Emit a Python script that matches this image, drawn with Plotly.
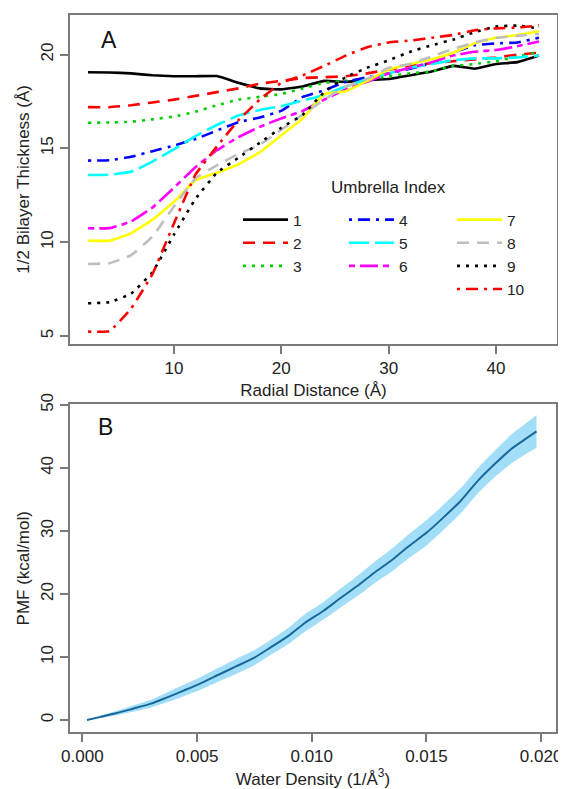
import plotly.graph_objects as go

# ---------------- Panel A data ----------------
radial = [2, 4, 6, 8, 10, 12, 14, 16, 18, 20, 22, 24, 26, 28, 30, 32, 34, 36, 38, 40, 42, 44]
u1 = [19.06, 19.05, 19.0, 18.9, 18.85, 18.85, 18.86, 18.5, 18.2, 18.15, 18.3, 18.6, 18.55, 18.65, 18.7, 18.9, 19.1, 19.4, 19.25, 19.5, 19.6, 19.95]
u2 = [17.2, 17.2, 17.3, 17.45, 17.6, 17.8, 18.0, 18.2, 18.45, 18.6, 18.75, 18.8, 18.85, 19.0, 19.2, 19.4, 19.55, 19.65, 19.75, 19.85, 20.0, 20.1]
u3 = [16.37, 16.38, 16.42, 16.55, 16.7, 16.95, 17.3, 17.6, 17.75, 17.9, 18.2, 18.5, 18.6, 18.7, 18.85, 19.0, 19.1, 19.4, 19.5, 19.65, 19.9, 20.15]
u4 = [14.35, 14.37, 14.55, 14.85, 15.15, 15.5, 15.95, 16.4, 16.65, 17.0, 17.75, 18.1, 18.55, 18.8, 19.0, 19.25, 19.55, 20.1, 20.5, 20.6, 20.65, 20.9]
u5 = [13.58, 13.6, 13.75, 14.3, 14.95, 15.65, 16.25, 16.75, 17.05, 17.25, 17.55, 17.85, 18.3, 18.7, 19.0, 19.3, 19.5, 19.7, 19.8, 19.8, 19.85, 19.95]
u6 = [10.74, 10.75, 11.1, 11.85, 12.9, 14.0, 14.9, 15.6, 16.15, 16.6, 17.0, 17.6, 18.15, 18.55, 19.0, 19.3, 19.6, 19.95, 20.15, 20.25, 20.45, 20.7]
u7 = [10.08, 10.08, 10.47, 11.2, 12.15, 13.3, 13.7, 14.15, 14.8, 15.7, 16.6, 17.9, 18.05, 18.6, 19.2, 19.5, 19.75, 20.1, 20.6, 20.9, 21.05, 21.25]
u8 = [8.84, 8.88, 9.3, 10.3, 11.9, 13.4, 14.1, 14.7, 15.2, 16.0, 16.8, 17.6, 18.3, 18.7, 19.3, 19.5, 19.9, 20.3, 20.65, 20.9, 21.0, 21.1]
u9 = [6.74, 6.8, 7.25, 8.4, 10.4, 12.3, 13.7, 14.5, 15.3, 16.1, 16.8, 18.0, 18.8, 19.3, 19.7, 20.15, 20.5, 20.8, 21.2, 21.5, 21.55, 21.4]
u10 = [5.23, 5.25, 6.45, 8.3, 11.0, 13.6, 15.1, 16.5, 17.6, 18.5, 18.9, 19.4, 19.95, 20.4, 20.65, 20.75, 20.9, 21.05, 21.3, 21.4, 21.45, 21.55]
umbrella_names = ["1", "2", "3", "4", "5", "6", "7", "8", "9", "10"]
umbrella_series = [u1, u2, u3, u4, u5, u6, u7, u8, u9, u10]

# ---------------- Panel B data ----------------
density = [0.0002, 0.0008, 0.0015, 0.0022, 0.0030, 0.0037, 0.0045, 0.0052, 0.0060, 0.0067,
           0.0075, 0.0082, 0.0090, 0.0097, 0.0105, 0.0112, 0.0120, 0.0127, 0.0135, 0.0142,
           0.0150, 0.0157, 0.0165, 0.0172, 0.0180, 0.0187, 0.0192, 0.0198]
pmf = [0.0, 0.5, 1.1, 1.8, 2.6, 3.6, 4.8, 5.9, 7.3, 8.5,
       9.9, 11.5, 13.4, 15.4, 17.3, 19.2, 21.3, 23.3, 25.4, 27.5,
       29.7, 32.0, 34.8, 37.8, 40.7, 43.0, 44.3, 45.8]
pmf_err = [0.05, 0.2, 0.35, 0.5, 0.6, 0.8, 0.9, 1.0, 1.1, 1.2,
           1.2, 1.2, 1.3, 1.4, 1.4, 1.5, 1.6, 1.7, 1.8, 1.9,
           2.0, 2.0, 2.0, 2.0, 2.1, 2.3, 2.4, 2.6]

colors = ["#000000", "#ff0000", "#00cd00", "#0000ff", "#00ffff",
          "#ff00ff", "#ffff00", "#bebebe", "#000000", "#ff0000"]
dashes = ["solid", "12px,8px", "3px,6px", "3px,6px,12px,6px", "20px,6px",
          "6px,5px,18px,5px", "solid", "12px,8px", "3px,6px", "3px,6px,12px,6px"]
legend_ids = ["legend", "legend", "legend", "legend2", "legend2", "legend2",
              "legend3", "legend3", "legend3", "legend3"]

# The page body has an 8px default margin, so the figure is 8px smaller and
# every reference pixel position is shifted by OFF.
OFF = 8
W, H = 566 - OFF, 789 - OFF
FONT = "Liberation Sans, Arial, sans-serif"
TXT = "#222222"
FS = 17

fig = go.Figure()

for name, ys, c, d, lg in zip(umbrella_names, umbrella_series, colors, dashes, legend_ids):
    fig.add_trace(go.Scatter(
        x=radial, y=ys, mode="lines", name=name,
        line=dict(color=c, width=2.6, dash=d, shape="spline", smoothing=0.3),
        xaxis="x", yaxis="y", legend=lg, showlegend=True,
    ))

lower = [p - e for p, e in zip(pmf, pmf_err)]
upper = [p + e for p, e in zip(pmf, pmf_err)]
fig.add_trace(go.Scatter(x=density, y=lower, mode="lines",
                         line=dict(width=0, color="#a3def8", shape="spline", smoothing=0.6),
                         xaxis="x2", yaxis="y2", showlegend=False, hoverinfo="skip"))
fig.add_trace(go.Scatter(x=density, y=upper, mode="lines",
                         line=dict(width=0, color="#a3def8", shape="spline", smoothing=0.6),
                         fill="tonexty", fillcolor="#a3def8",
                         xaxis="x2", yaxis="y2", showlegend=False, hoverinfo="skip"))
fig.add_trace(go.Scatter(x=density, y=pmf, mode="lines",
                         line=dict(width=2, color="#17699c", shape="spline", smoothing=0.6),
                         xaxis="x2", yaxis="y2", showlegend=False))

axis_common = dict(
    showline=True, linecolor="#7a7a7a", linewidth=1.5, mirror=True,
    ticks="outside", ticklen=8, tickcolor="#7a7a7a", tickwidth=1.5,
    showgrid=False, zeroline=False, automargin=False,
    tickfont=dict(family=FONT, size=FS, color=TXT),
)

def px_x(a, b):
    return [(a - OFF) / W, (b - OFF) / W]

def px_y(top, bottom):
    return [1 - (bottom - OFF) / H, 1 - (top - OFF) / H]

def ppx(x):
    return (x - OFF) / W

def ppy(y):
    return 1 - (y - OFF) / H

leg_common = dict(
    font=dict(family=FONT, size=15.5, color=TXT),
    bgcolor="rgba(0,0,0,0)", borderwidth=0, tracegroupgap=0,
    itemwidth=45, xanchor="left", yanchor="top", traceorder="normal",
)

title_font = dict(family=FONT, size=FS, color=TXT)

fig.update_layout(
    width=W, height=H, autosize=False,
    margin=dict(l=0, r=0, t=0, b=0, autoexpand=False),
    paper_bgcolor="white", plot_bgcolor="white",
    font=dict(family=FONT, size=FS, color=TXT),
    xaxis=dict(axis_common, domain=px_x(70, 557), range=[0.32, 45.68],
               tickvals=[10, 20, 30, 40], anchor="y",
               title=dict(text="Radial Distance (Å)", standoff=7, font=title_font)),
    yaxis=dict(axis_common, domain=px_y(14.7, 344), range=[4.57, 22.13],
               tickvals=[5, 10, 15, 20], tickangle=-90, anchor="x",
               title=dict(text="1/2 Bilayer Thickness (Å)", standoff=4, font=title_font)),
    xaxis2=dict(axis_common, domain=px_x(70, 556), range=[-0.00054, 0.02065],
                tickvals=[0, 0.005, 0.010, 0.015, 0.020], tickformat=".3f", anchor="y2",
                title=dict(text="Water Density (1/Å<sup>3</sup>)", standoff=7, font=title_font)),
    yaxis2=dict(axis_common, domain=px_y(404.3, 732.3), range=[-1.95, 50.1],
                tickvals=[0, 10, 20, 30, 40, 50], tickangle=-90, anchor="x2",
                title=dict(text="PMF (kcal/mol)", standoff=4, font=title_font)),
    legend=dict(leg_common, x=ppx(238), y=ppy(203)),
    legend2=dict(leg_common, x=ppx(344), y=ppy(203)),
    legend3=dict(leg_common, x=ppx(452), y=ppy(203)),
    showlegend=True,
    annotations=[
        dict(text="Umbrella Index", x=ppx(388), y=ppy(187), xref="paper", yref="paper",
             xanchor="center", yanchor="middle",
             showarrow=False, font=dict(family=FONT, size=FS, color=TXT)),
        dict(text="A", x=ppx(109), y=ppy(40), xref="paper", yref="paper",
             xanchor="center", yanchor="middle",
             showarrow=False, font=dict(family=FONT, size=23, color="#111111")),
        dict(text="B", x=ppx(105.5), y=ppy(427), xref="paper", yref="paper",
             xanchor="center", yanchor="middle",
             showarrow=False, font=dict(family=FONT, size=23, color="#111111")),
    ],
)

fig.write_html("out.html")
